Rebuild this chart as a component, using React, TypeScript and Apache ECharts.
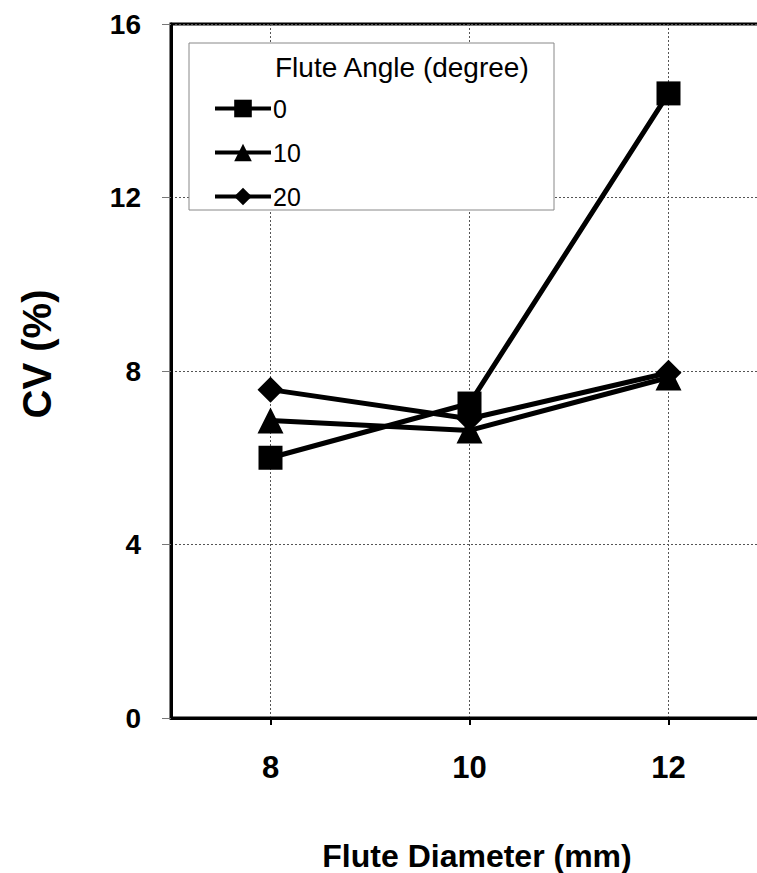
import React, { useEffect, useRef } from "react";
import * as echarts from "echarts";

const diameters = [8, 10, 12];
const seriesNames = ["0", "10", "20"];
const cvAngle0 = [6.0, 7.25, 14.4];
const cvAngle10 = [6.86, 6.63, 7.85];
const cvAngle20 = [7.57, 6.9, 7.96];
const symbols = ["rect", "triangle", "diamond"];
const symbolSizes = [24, 26, 26];
const legendTitle = "Flute Angle (degree)";
const xName = "Flute Diameter (mm)";
const yName = "CV (%)";

const FONT = "'Liberation Sans', Arial, Helvetica, sans-serif";

export default function App() {
  const ref = useRef<HTMLDivElement>(null);
  useEffect(() => {
    if (!ref.current) return;
    const chart = echarts.init(ref.current, undefined, { renderer: "svg" });
    const values = [cvAngle0, cvAngle10, cvAngle20];
    const series = seriesNames.map((name, i) => ({
      name,
      type: "line",
      data: diameters.map((d, j) => [d, values[i][j]]),
      symbol: symbols[i],
      symbolSize: symbolSizes[i],
      showSymbol: true,
      lineStyle: { color: "#000", width: 5 },
      itemStyle: { color: "#000", borderWidth: 0 },
      z: 3,
    }));
    chart.setOption({
      animation: false,
      backgroundColor: "#fff",
      textStyle: { fontFamily: FONT },
      grid: {
        left: 171,
        top: 24,
        width: 597,
        height: 694,
        outerBoundsMode: "none",
        containLabel: false,
        show: true,
        borderColor: "#000",
        borderWidth: 3,
        backgroundColor: "transparent",
      },
      xAxis: {
        type: "value",
        min: 7,
        max: 13,
        axisLine: { show: true, lineStyle: { color: "#000", width: 3 } },
        axisTick: { show: true, length: 7, lineStyle: { color: "#000", width: 2 }, customValues: diameters },
        axisLabel: {
          customValues: diameters,
          fontSize: 31,
          fontWeight: "bold",
          color: "#000",
          margin: 34,
          fontFamily: FONT,
        },
        splitLine: { show: true, lineStyle: { color: "#555", width: 1, type: [2, 2] } },
      },
      yAxis: {
        type: "value",
        min: 0,
        max: 16,
        interval: 4,
        axisLine: { show: true, lineStyle: { color: "#000", width: 3 } },
        axisTick: { show: true, length: 9, lineStyle: { color: "#777", width: 1 } },
        axisLabel: { fontSize: 28, fontWeight: "bold", color: "#000", margin: 30, fontFamily: FONT },
        splitLine: { show: true, lineStyle: { color: "#555", width: 1, type: [2, 2] } },
      },
      legend: {
        data: seriesNames,
        orient: "vertical",
        left: 213,
        top: 96,
        itemWidth: 56,
        itemHeight: 22,
        itemGap: 19,
        padding: 0,
        lineStyle: { width: 4, color: "#000" },
        textStyle: { fontSize: 25, color: "#000", fontFamily: FONT, padding: [0, 0, 0, -3] },
        z: 6,
      },
      graphic: [
        {
          type: "rect",
          shape: { x: 189, y: 43, width: 365, height: 167 },
          style: { fill: "#fff", stroke: "#888", lineWidth: 1 },
          z: 5,
        },
        {
          type: "text",
          x: 275,
          y: 67,
          style: {
            text: legendTitle,
            fontSize: 28,
            fontFamily: FONT,
            fill: "#000",
            verticalAlign: "middle",
            align: "left",
          },
          z: 6,
        },
        {
          type: "text",
          x: 477,
          y: 856,
          style: {
            text: xName,
            fontSize: 32,
            fontWeight: "bold",
            fontFamily: FONT,
            fill: "#000",
            verticalAlign: "middle",
            align: "center",
          },
          z: 6,
        },
        {
          type: "text",
          x: 37,
          y: 354,
          rotation: Math.PI / 2,
          style: {
            text: yName,
            fontSize: 40,
            fontWeight: "bold",
            fontFamily: FONT,
            fill: "#000",
            verticalAlign: "middle",
            align: "center",
          },
          z: 6,
        },
      ],
      series,
    });
    return () => chart.dispose();
  }, []);
  return (
    <div
      ref={ref}
      style={{ position: "absolute", left: 0, top: 0, width: 757, height: 873 }}
    />
  );
}
